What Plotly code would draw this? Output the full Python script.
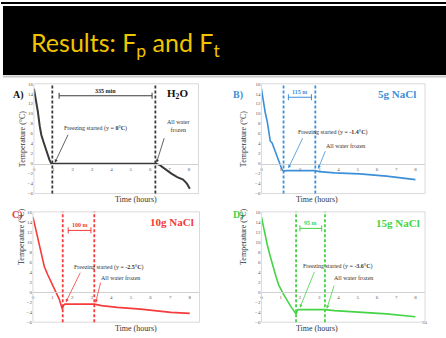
import plotly.graph_objects as go

W, H = 446, 338

# ---------------- data ----------------
hours_A = [0, 0.1, 0.2, 0.3, 0.38, 0.5, 0.65, 0.8, 0.9, 1.5, 3, 4.5, 6.3, 6.5, 6.8, 7.1, 7.4, 7.7, 7.9, 8.05]
temp_A = [15, 13, 10.5, 7.5, 5.8, 4.3, 2.5, 0.8, 0, 0, 0, 0, 0, -0.3, -1.2, -2, -2.7, -3.2, -4, -5]

hours_B = [0, 0.1, 0.2, 0.3, 0.4, 0.46, 0.55, 0.81, 1.07, 1.15, 1.3, 2.0, 2.8, 3.0, 3.8, 5.1, 6.5, 8.0]
temp_B = [15, 12.5, 10.2, 8.5, 6.0, 4.5, 4.2, 1.4, -1.2, -1.5, -1.4, -1.4, -1.4, -1.6, -1.85, -2.05, -2.5, -3.2]

hours_C = [0, 0.2, 0.4, 0.58, 0.75, 0.92, 1.1, 1.34, 1.5, 1.55, 1.63, 2.5, 3.13, 3.5, 4.3, 5.5, 7.04, 8.0]
temp_C = [15, 11.5, 7.8, 5.1, 3.5, 2.2, 0.6, -1.4, -3.4, -2.7, -2.4, -2.4, -2.4, -2.7, -3.05, -3.4, -4.05, -4.25]

hours_D = [0, 0.15, 0.3, 0.46, 0.6, 0.75, 0.89, 1.15, 1.5, 1.8, 1.85, 1.9, 2.5, 3.3, 3.8, 4.76, 6.5, 8.0]
temp_D = [15, 12, 9.5, 7.1, 5.0, 3.2, 1.5, -0.45, -2.7, -4.4, -3.8, -3.5, -3.5, -3.5, -3.7, -3.9, -4.35, -4.9]

panel_letters = ["A)", "B)", "C)", "D)"]
panel_names = ["H<sub>2</sub>O", "5g NaCl", "10g NaCl", "15g NaCl"]
freeze_start = [0.95, 1.15, 1.52, 1.8]
all_frozen = [6.27, 2.8, 3.13, 3.3]
freeze_temp = ["0", "-1.4", "-2.5", "-3.6"]
duration_labels = ["335 min", "115 m", "100 m", "95 m"]
x_ticks = [0, 1, 2, 3, 4, 5, 6, 7, 8]
y_ticks = [-6, -4, -2, 0, 2, 4, 6, 8, 10, 12, 14, 16]
title_text = "Results: F<sub>p</sub> and F<sub>t</sub>"
x_title = "Time (hours)"
y_title = "Temperature (°C)"
page_number = "34"

# ---------------- layout / style ----------------
colors = ["#3a3a3a", "#3d8fd8", "#f53b3b", "#45d445"]
# pixel boxes of plot areas: (left, right, top, bottom)
boxes = [(33, 198, 83, 194.5), (261, 425, 83, 194.5), (32, 199, 213, 325), (261, 425, 213, 325)]
# per-panel annotation placements (data coords)
bracket = [(1.3, 6.1, 13.6), (1.4, 2.6, 13.3), (1.8, 2.96, 12.3), (2.0, 3.13, 12.7)]
name_pos = [(7.4, 14.0), (7.05, 14.0), (7.1, 14.0), (7.1, 13.8)]
fs_text_pos = [(3.2, 7.0), (3.7, 6.25), (3.9, 4.95), (4.0, 5.1)]
fs_arrow = [((1.8, 6.1), (1.08, 0.2)), ((2.18, 5.4), (1.4, -0.9)),
            ((2.45, 4.15), (1.68, -2.0)), ((2.78, 4.3), (2.0, -3.1))]
af_text_pos = [(6.75, 7.5), (4.37, 3.6), (4.45, 2.85), (4.8, 2.85)]
af_arrow = [((6.75, 5.4), (6.33, 0.2)), ((3.35, 2.8), (2.95, -1.0)),
            ((3.47, 2.2), (3.2, -2.1)), ((3.8, 1.6), (3.4, -3.3))]

serif = "Liberation Serif"
series = [(hours_A, temp_A), (hours_B, temp_B), (hours_C, temp_C), (hours_D, temp_D)]

fig = go.Figure()
shapes = []
annotations = []
layout = {}

# header
shapes.append(dict(type="rect", xref="paper", yref="paper", x0=0, x1=1, y0=1 - 2 / H, y1=1,
                   fillcolor="black", line=dict(width=0), layer="below"))
shapes.append(dict(type="rect", xref="paper", yref="paper", x0=2 / W, x1=1, y0=1 - 74 / H, y1=1 - 4 / H,
                   fillcolor="black", line=dict(width=0), layer="below"))
shapes.append(dict(type="line", xref="paper", yref="paper", x0=2 / W, x1=1, y0=1 - 75.5 / H, y1=1 - 75.5 / H,
                   line=dict(color="#c8c8c8", width=2), layer="below"))
annotations.append(dict(text=title_text, xref="paper", yref="paper", x=28 / W, y=1 - 43 / H,
                        xanchor="left", yanchor="middle", showarrow=False,
                        font=dict(family="Lato", size=25, color="#f2c400")))
annotations.append(dict(text=page_number, xref="paper", yref="paper", x=430 / W, y=1 - 330 / H,
                        showarrow=False, font=dict(family=serif, size=5, color="#888888")))

for i in range(4):
    n = "" if i == 0 else str(i + 1)
    xa, ya = "x" + n, "y" + n
    l, r, t, b = boxes[i]
    xd = [l / W, r / W]
    yd = [1 - b / H, 1 - t / H]
    pos0 = yd[0] + (0 - (-6)) / 22 * (yd[1] - yd[0])
    c = colors[i]
    layout["xaxis" + n] = dict(domain=xd, range=[0, 8.5], anchor="free", position=pos0,
                               showline=True, linecolor="#d0d0d0", linewidth=1,
                               showgrid=False, zeroline=False, tickvals=x_ticks, ticks="",
                               tickfont=dict(family=serif, size=5, color="#595959"))
    layout["yaxis" + n] = dict(domain=yd, range=[-6, 16], anchor=xa, showgrid=False,
                               zeroline=False, showline=False, tickvals=y_ticks, ticks="",
                               tickfont=dict(family=serif, size=5, color="#595959"))
    # box
    shapes.append(dict(type="rect", xref=xa + " domain", yref=ya + " domain", x0=0, x1=1, y0=0, y1=1,
                       line=dict(color="#d9d9d9", width=1)))
    hx, hy = series[i]
    fig.add_trace(go.Scatter(x=hx, y=hy, xaxis=xa, yaxis=ya, mode="lines",
                             line=dict(color=c, width=2 if i == 0 else 1.6), showlegend=False,
                             hoverinfo="skip"))
    # dashed lines
    for v in (freeze_start[i], all_frozen[i]):
        shapes.append(dict(type="line", xref=xa, yref=ya + " domain", x0=v, x1=v, y0=0, y1=1,
                           line=dict(color=c, width=1.8, dash="3px,2px")))
    # bracket
    bx0, bx1, by = bracket[i]
    shapes.append(dict(type="line", xref=xa, yref=ya, x0=bx0, x1=bx1, y0=by, y1=by,
                       line=dict(color=c, width=1)))
    for bx in (bx0, bx1):
        shapes.append(dict(type="line", xref=xa, yref=ya, x0=bx, x1=bx, y0=by - 0.6, y1=by + 0.6,
                           line=dict(color=c, width=1)))
    annotations.append(dict(text="<b>" + duration_labels[i] + "</b>", xref=xa, yref=ya,
                            x=(bx0 + bx1) / 2, y=by + 1.0, showarrow=False, yanchor="middle",
                            font=dict(family=serif, size=6, color=c if i else "#222222")))
    # panel name
    annotations.append(dict(text="<b>" + panel_names[i] + "</b>", xref=xa, yref=ya,
                            x=name_pos[i][0], y=name_pos[i][1], showarrow=False,
                            font=dict(family=serif, size=11, color=c if i else "#111111")))
    # panel letter
    annotations.append(dict(text="<b>" + panel_letters[i] + "</b>", xref="paper", yref="paper",
                            x=(l - 23) / W, y=1 - (t + 3) / H, showarrow=False,
                            font=dict(family=serif, size=10, color=c if i else "#111111")))
    # freezing started
    fx, fy = fs_text_pos[i]
    annotations.append(dict(text="Freezing started (y = <b>" + freeze_temp[i] + "°C</b>)",
                            xref=xa, yref=ya, x=fx, y=fy, showarrow=False,
                            font=dict(family=serif, size=6, color="#333333")))
    (sx, sy), (ex, ey) = fs_arrow[i]
    annotations.append(dict(text="", xref=xa, yref=ya, x=ex, y=ey, ax=sx, ay=sy,
                            axref=xa, ayref=ya, showarrow=True, arrowhead=2, arrowsize=0.8,
                            arrowwidth=0.8, arrowcolor=c))
    # all water frozen
    ax_, ay_ = af_text_pos[i]
    af_txt = "All water<br>frozen" if i == 0 else "All water frozen"
    annotations.append(dict(text=af_txt, xref=xa, yref=ya, x=ax_, y=ay_, showarrow=False,
                            xanchor="left" if i == 0 else "center",
                            font=dict(family=serif, size=6, color="#333333")))
    (sx, sy), (ex, ey) = af_arrow[i]
    annotations.append(dict(text="", xref=xa, yref=ya, x=ex, y=ey, ax=sx, ay=sy,
                            axref=xa, ayref=ya, showarrow=True, arrowhead=2, arrowsize=0.8,
                            arrowwidth=0.8, arrowcolor=c))
    # axis titles
    annotations.append(dict(text=x_title, xref="paper", yref="paper", x=(l + r) / 2 / W - 3 / W,
                            y=1 - (b + 6) / H, showarrow=False, yanchor="middle",
                            font=dict(family=serif, size=8, color="#333333")))
    annotations.append(dict(text=y_title, xref="paper", yref="paper", x=(l - 18) / W,
                            y=1 - (t + b) / 2 / H, showarrow=False, textangle=-90,
                            font=dict(family=serif, size=8, color="#333333")))

fig.update_layout(width=W, height=H, autosize=False, margin=dict(l=0, r=0, t=0, b=0),
                  paper_bgcolor="white", plot_bgcolor="white", shapes=shapes,
                  annotations=annotations, **layout)
fig.write_html("out.html", config={"displayModeBar": False, "staticPlot": True},
               post_script="document.body.style.margin='0';document.body.style.overflow='hidden';")
